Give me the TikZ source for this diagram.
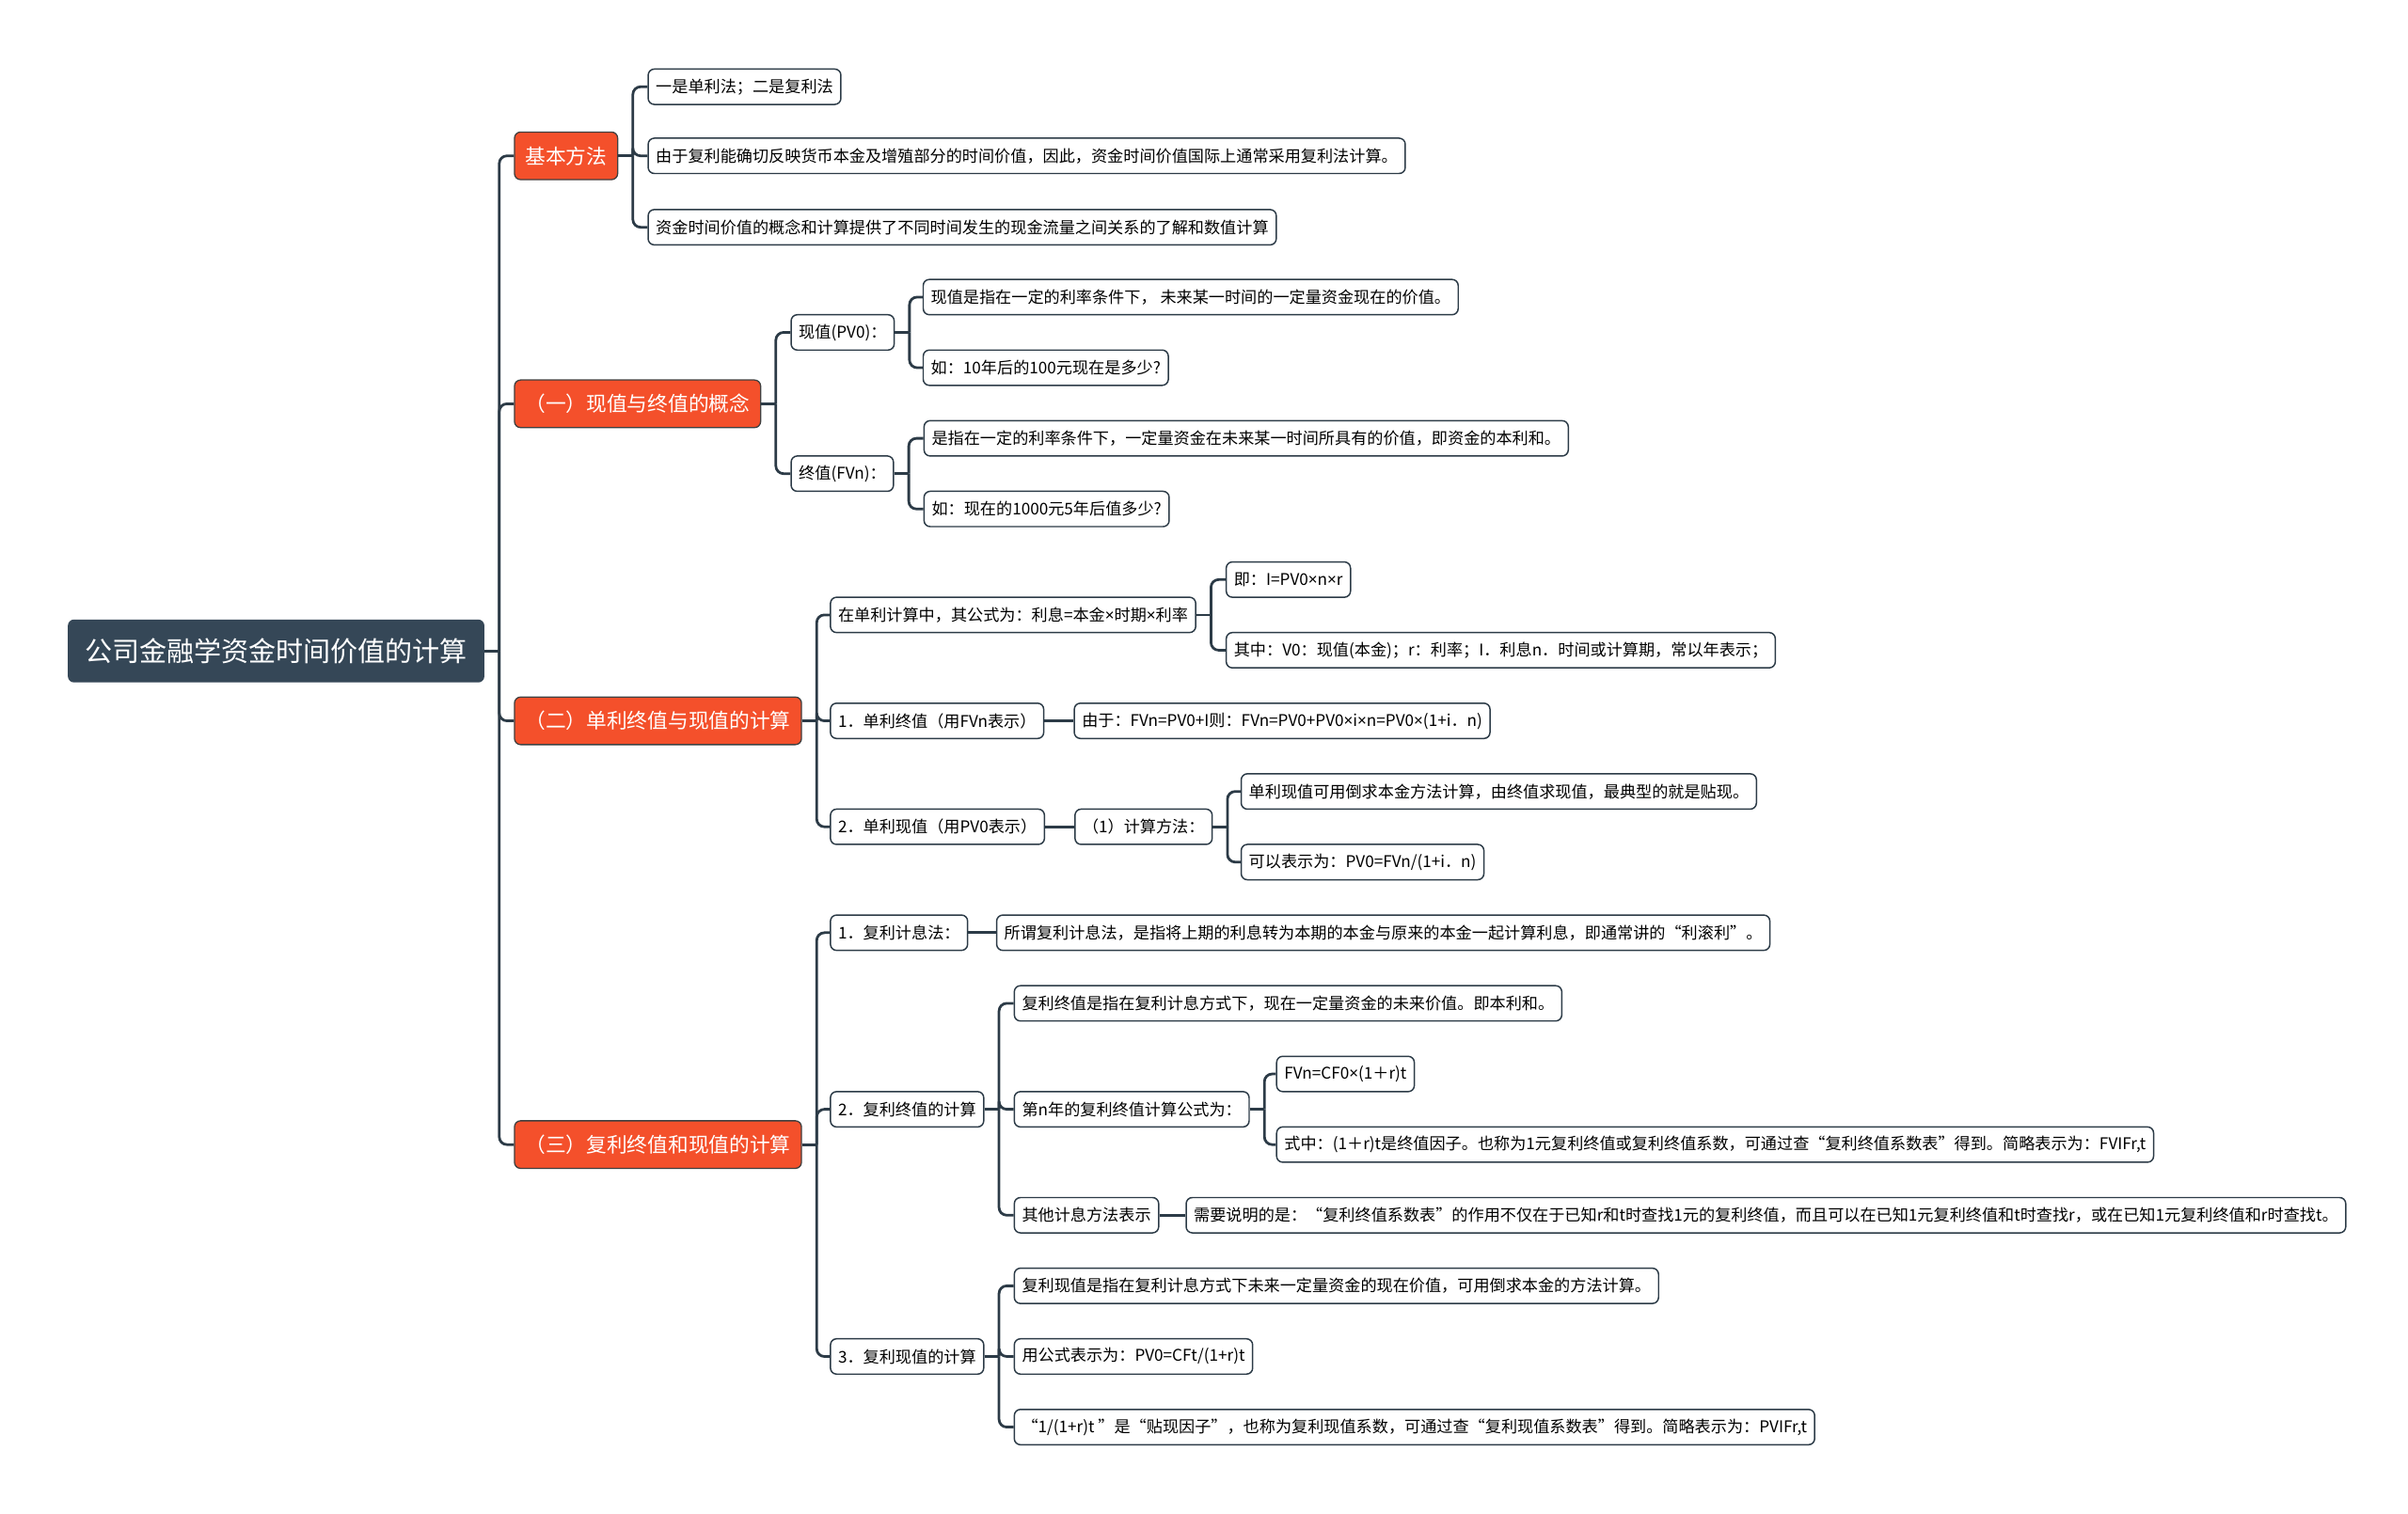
\documentclass[tikz,border=0pt]{standalone}
\usepackage{fontspec}
\setmainfont{Noto Sans CJK SC}
\newfontfamily\latinf{Noto Sans}
\usetikzlibrary{calc}
\definecolor{rootc}{HTML}{354757}
\definecolor{topicc}{HTML}{F4502B}
\definecolor{linec}{HTML}{2C3B47}
\newcommand{\tms}{{\latinf ×}}
\tikzset{
  rootbox/.style={fill=rootc, text=white, rounded corners=4pt, minimum height=41pt,
    inner xsep=11pt, anchor=west, font=\fontsize{17.8}{20}\selectfont},
  topic/.style={fill=topicc, draw=black!75, line width=0.8pt, text=white, rounded corners=4pt,
    minimum height=31pt, inner xsep=7pt, anchor=west, font=\fontsize{13.3}{15}\selectfont},
  leaf/.style={fill=white, draw=linec, line width=0.9pt, rounded corners=4pt,
    minimum height=23pt, inner xsep=5pt, anchor=west, font=\fontsize{10.5}{12}\selectfont},
  link/.style={draw=linec, line width=1.7pt},
}
\begin{document}
\begin{tikzpicture}[x=1pt,y=-1pt]
    \useasboundingbox (0,0) rectangle (1568,986);
    % root
    \node[rootbox] (root) at (44,424) {公司金融学资金时间价值的计算};

    % basic method
    \node[topic] (m1) at ($(root.east |- 0,101.5)+(19,0)$) {基本方法};
    \node[leaf] (m1a) at ($(m1.east |- 0,56.5)+(19,0)$) {一是单利法；二是复利法};
    \node[leaf] (m1b) at ($(m1.east |- 0,101.5)+(19,0)$) {由于复利能确切反映货币本金及增殖部分的时间价值，因此，资金时间价值国际上通常采用复利法计算。};
    \node[leaf] (m1c) at ($(m1.east |- 0,148)+(19,0)$) {资金时间价值的概念和计算提供了不同时间发生的现金流量之间关系的了解和数值计算};

    % (1) concepts
    \node[topic] (m2) at ($(root.east |- 0,263)+(19,0)$) {（一）现值与终值的概念};
    \node[leaf] (m2a) at ($(m2.east |- 0,216.5)+(19,0)$) {现值(PV0)：};
    \node[leaf] (m2a1) at ($(m2a.east |- 0,193.5)+(18,0)$) {现值是指在一定的利率条件下， 未来某一时间的一定量资金现在的价值。};
    \node[leaf] (m2a2) at ($(m2a.east |- 0,239.5)+(18,0)$) {如：10年后的100元现在是多少?};
    \node[leaf] (m2b) at ($(m2.east |- 0,308.5)+(19,0)$) {终值(FVn)：};
    \node[leaf] (m2b1) at ($(m2b.east |- 0,285.5)+(19,0)$) {是指在一定的利率条件下，一定量资金在未来某一时间所具有的价值，即资金的本利和。};
    \node[leaf] (m2b2) at ($(m2b.east |- 0,331.5)+(19,0)$) {如：现在的1000元5年后值多少?};

    % (2) simple interest
    \node[topic] (m3) at ($(root.east |- 0,469.5)+(19,0)$) {（二）单利终值与现值的计算};
    \node[leaf] (m3a) at ($(m3.east |- 0,400.5)+(18,0)$) {在单利计算中，其公式为：利息=本金\tms 时期\tms 利率};
    \node[leaf] (m3a1) at ($(m3a.east |- 0,377.5)+(19,0)$) {即：I=PV0\tms n\tms r};
    \node[leaf] (m3a2) at ($(m3a.east |- 0,423.5)+(19,0)$) {其中：V0：现值(本金)；r：利率；I．利息n．时间或计算期，常以年表示；};
    \node[leaf] (m3b) at ($(m3.east |- 0,469.5)+(18,0)$) {1．单利终值（用FVn表示）};
    \node[leaf] (m3b1) at ($(m3b.east |- 0,469.5)+(19,0)$) {由于：FVn=PV0+I则：FVn=PV0+PV0\tms i\tms n=PV0\tms (1+i．n)};
    \node[leaf] (m3c) at ($(m3.east |- 0,538.5)+(18,0)$) {2．单利现值（用PV0表示）};
    \node[leaf] (m3c1) at ($(m3c.east |- 0,538.5)+(19,0)$) {（1）计算方法：};
    \node[leaf] (m3c1a) at ($(m3c1.east |- 0,515.5)+(18,0)$) {单利现值可用倒求本金方法计算，由终值求现值，最典型的就是贴现。};
    \node[leaf] (m3c1b) at ($(m3c1.east |- 0,561.5)+(18,0)$) {可以表示为：PV0=FVn/(1+i．n)};

    % (3) compound interest
    \node[topic] (m4) at ($(root.east |- 0,745.5)+(19,0)$) {（三）复利终值和现值的计算};
    \node[leaf] (m4a) at ($(m4.east |- 0,607.5)+(18,0)$) {1．复利计息法：};
    \node[leaf] (m4a1) at ($(m4a.east |- 0,607.5)+(18,0)$) {所谓复利计息法，是指将上期的利息转为本期的本金与原来的本金一起计算利息，即通常讲的“利滚利”。};
    \node[leaf] (m4b) at ($(m4.east |- 0,722.5)+(18,0)$) {2．复利终值的计算};
    \node[leaf] (m4b1) at ($(m4b.east |- 0,653.5)+(19,0)$) {复利终值是指在复利计息方式下，现在一定量资金的未来价值。即本利和。};
    \node[leaf] (m4b2) at ($(m4b.east |- 0,722.5)+(19,0)$) {第n年的复利终值计算公式为：};
    \node[leaf] (m4b2a) at ($(m4b2.east |- 0,699.5)+(17,0)$) {FVn=CF0\tms (1＋r)t};
    \node[leaf] (m4b2b) at ($(m4b2.east |- 0,745.5)+(17,0)$) {式中：(1＋r)t是终值因子。也称为1元复利终值或复利终值系数，可通过查“复利终值系数表”得到。简略表示为：FVIFr,t};
    \node[leaf] (m4b3) at ($(m4b.east |- 0,791.5)+(19,0)$) {其他计息方法表示};
    \node[leaf] (m4b3a) at ($(m4b3.east |- 0,791.5)+(17,0)$) {需要说明的是：“复利终值系数表”的作用不仅在于已知r和t时查找1元的复利终值，而且可以在已知1元复利终值和t时查找r，或在已知1元复利终值和r时查找t。};
    \node[leaf] (m4c) at ($(m4.east |- 0,883.5)+(18,0)$) {3．复利现值的计算};
    \node[leaf] (m4c1) at ($(m4c.east |- 0,837.5)+(19,0)$) {复利现值是指在复利计息方式下未来一定量资金的现在价值，可用倒求本金的方法计算。};
    \node[leaf] (m4c2) at ($(m4c.east |- 0,883.5)+(19,0)$) {用公式表示为：PV0=CFt/(1+r)t};
    \node[leaf] (m4c3) at ($(m4c.east |- 0,929.5)+(19,0)$) {“1/(1+r)t ”是“贴现因子”，也称为复利现值系数，可通过查“复利现值系数表”得到。简略表示为：PVIFr,t};

    % branching connectors
    \foreach \p/\c in {root/m1,root/m2,root/m3,root/m4,
        m1/m1a,m1/m1b,m1/m1c,m2/m2a,m2/m2b,m2a/m2a1,m2a/m2a2,m2b/m2b1,m2b/m2b2,
        m3/m3a,m3/m3b,m3/m3c,m3a/m3a1,m3a/m3a2,m3c1/m3c1a,m3c1/m3c1b,
        m4/m4a,m4/m4b,m4/m4c,m4b/m4b1,m4b/m4b2,m4b/m4b3,m4b2/m4b2a,m4b2/m4b2b,
        m4c/m4c1,m4c/m4c2,m4c/m4c3} {
      \draw[link] (\p.east) -- ++(9.5,0) coordinate (j);
      \draw[link, rounded corners=5pt] (j) |- (\c.west);
    }
    % single children
    \foreach \p/\c in {m3b/m3b1,m3c/m3c1,m4a/m4a1,m4b3/m4b3a}
      \draw[link] (\p.east) -- (\c.west);
\end{tikzpicture}
\end{document}
